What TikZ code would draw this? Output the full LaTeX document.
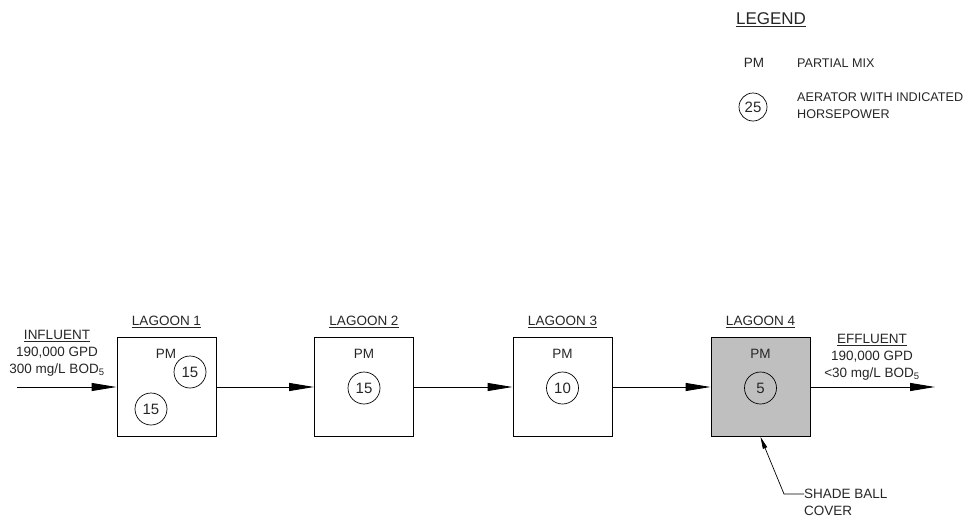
\documentclass[tikz,border=0pt]{standalone}
\usepackage{fontspec}
\setmainfont{Liberation Sans}
\usetikzlibrary{arrows.meta}
\begin{document}
\begin{tikzpicture}[x=1pt,y=-1pt,
  every node/.style={font=\fontsize{13.5}{17}\selectfont, inner sep=0pt, text=black!85},
  lagoon/.style={draw, line width=0.9pt, minimum width=99pt, minimum height=99pt},
  shaded/.style={lagoon, fill=black!25},
  aer/.style={draw, circle, line width=0.7pt, minimum size=32pt, font=\fontsize{15}{17}\selectfont},
  flow/.style={line width=0.9pt, -{Triangle[length=25pt,width=8pt]}},
  leader/.style={line width=0.7pt, -{Triangle[length=12pt,width=4.5pt]}},
  title/.style={inner sep=1pt},
  legtext/.style={anchor=west, align=left, font=\fontsize{12.6}{17}\selectfont}
]
\useasboundingbox (0,0) rectangle (972,517);

% lagoons
\node[lagoon] (L1) at (166.5,387) {};
\node[lagoon] (L2) at (364,387) {};
\node[lagoon] (L3) at (562.5,387) {};
\node[shaded] (L4) at (760.5,387) {};

\node[title] (t1) at (166.5,322) {\underline{LAGOON 1}};
\node[title] (t2) at (364,322) {\underline{LAGOON 2}};
\node[title] (t3) at (562.5,322) {\underline{LAGOON 3}};
\node[title] (t4) at (760.5,322) {\underline{LAGOON 4}};

% contents
\node (pm1) at (166,354) {PM};
\node[aer] (a11) at (190,372) {15};
\node[aer] (a12) at (151,409) {15};
\node (pm2) at (364,354) {PM};
\node[aer] (a2) at (364,388) {15};
\node (pm3) at (562.5,354) {PM};
\node[aer] (a3) at (562.5,388) {10};
\node (pm4) at (760.5,354) {PM};
\node[aer] (a4) at (760.5,388) {5};

% influent / effluent
\node[align=center] (inf) at (57,353) {\underline{INFLUENT}\\190,000 GPD\\300 mg/L BOD\textsubscript{5}};
\node[align=center] (eff) at (872,357) {\underline{EFFLUENT}\\190,000 GPD\\<30 mg/L BOD\textsubscript{5}};
\coordinate (in0) at (17,387);
\coordinate (out1) at (935,387);

\draw[flow] (in0) -- (L1);
\draw[flow] (L1) -- (L2);
\draw[flow] (L2) -- (L3);
\draw[flow] (L3) -- (L4);
\draw[flow] (L4) -- (out1);

% shade ball
\node[anchor=west] (sb1) at (804,494) {SHADE BALL};
\node[anchor=west] (sb2) at (804,511) {COVER};
\coordinate (bend) at (784,494);
\draw[leader] (sb1.west) -- (bend) -- (L4.south);

% legend
\node[title, font=\fontsize{17}{20}\selectfont] (leg) at (771,20) {\underline{LEGEND}};
\node (lpm) at (754,63) {PM};
\node[legtext] (lpmt) at (797,63) {PARTIAL MIX};
\node[aer, minimum size=28pt] (la) at (753,107) {25};
\node[legtext] (lat) at (797,106) {AERATOR WITH INDICATED\\HORSEPOWER};
\end{tikzpicture}
\end{document}
